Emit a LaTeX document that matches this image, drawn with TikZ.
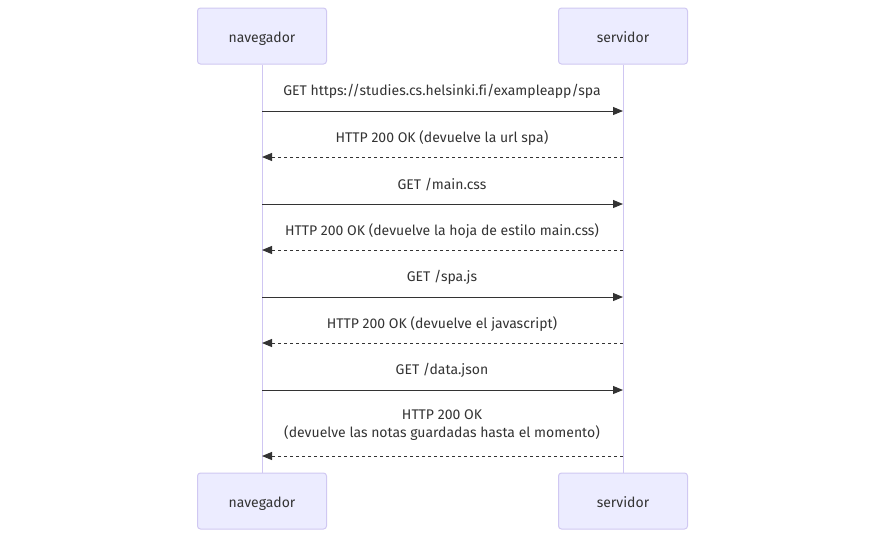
\documentclass[tikz,border=0pt]{standalone}
\usepackage{fontspec}
\setmainfont[Ligatures=NoCommon]{Fira Sans}
\usetikzlibrary{arrows.meta}
\definecolor{boxfill}{HTML}{ECECFF}
\definecolor{boxline}{HTML}{D0C8F2}
\definecolor{lifeline}{HTML}{CFC6F2}
\definecolor{txt}{HTML}{333333}
\begin{document}
\begin{tikzpicture}[x=1pt,y=-1pt,
  actor/.style={draw=boxline,fill=boxfill,line width=1pt,rounded corners=3pt,minimum width=129pt,minimum height=56pt,inner sep=0pt,text=txt,font=\fontsize{14}{16}\selectfont,text height=12pt,text depth=0pt},
  msg/.style={draw=txt,line width=1pt,-{Triangle[length=10pt,width=8pt]}},
  reply/.style={msg,dash pattern=on 3pt off 3pt},
  lbl/.style={text=txt,font=\fontsize{14}{18}\selectfont,align=center,inner sep=0pt}]
\useasboundingbox (0,0) rectangle (885,539);
\node[actor] (nt) at (262,36) {navegador};
\node[actor] (st) at (623,36) {servidor};
\node[actor] (nb) at (262,501) {navegador};
\node[actor] (sb) at (623,501) {servidor};
\draw[lifeline,line width=1pt] (nt.south) -- (nb.north);
\draw[lifeline,line width=1pt] (st.south) -- (sb.north);
\foreach \i/\y in {1/111,2/157,3/204,4/250,5/297,6/343,7/390,8/456}{
  \coordinate (n\i) at (262,\y);
  \coordinate (s\i) at (623,\y);
}
\draw[msg] (n1) -- (s1);
\node[lbl] (l1) at (442,91.5) {GET https://studies.cs.helsinki.fi/exampleapp/spa};
\draw[reply] (s2) -- (n2);
\node[lbl] (l2) at (442,138.5) {HTTP 200 OK (devuelve la url spa)};
\draw[msg] (n3) -- (s3);
\node[lbl] (l3) at (442,184.5) {GET /main.css};
\draw[reply] (s4) -- (n4);
\node[lbl] (l4) at (442,231.5) {HTTP 200 OK (devuelve la hoja de estilo main.css)};
\draw[msg] (n5) -- (s5);
\node[lbl] (l5) at (442,277.5) {GET /spa.js};
\draw[reply] (s6) -- (n6);
\node[lbl] (l6) at (442,324.5) {HTTP 200 OK (devuelve el javascript)};
\draw[msg] (n7) -- (s7);
\node[lbl] (l7) at (442,370.5) {GET /data.json};
\draw[reply] (s8) -- (n8);
\node[lbl] (l8) at (442,425.5) {HTTP 200 OK\\(devuelve las notas guardadas hasta el momento)};
\end{tikzpicture}
\end{document}
